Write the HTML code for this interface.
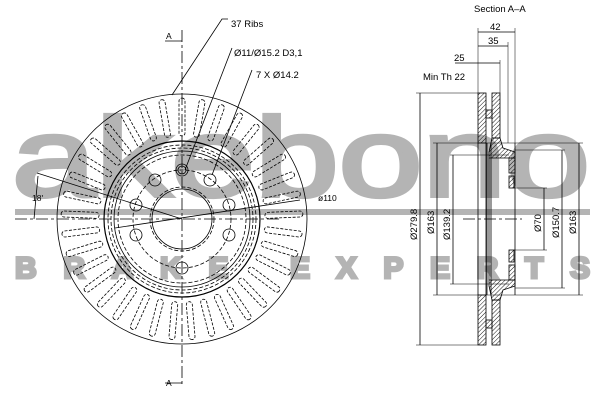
<!DOCTYPE html>
<html><head><meta charset="utf-8"><style>
html,body{margin:0;padding:0;background:#fff}
svg{display:block}
text{font-family:"Liberation Sans",sans-serif;fill:#000}
</style></head><body>
<svg id="s" width="600" height="400" viewBox="0 0 600 400" xmlns="http://www.w3.org/2000/svg">
<defs>
<pattern id="h" width="3" height="3" patternUnits="userSpaceOnUse" patternTransform="rotate(45)">
<line x1="0" y1="0" x2="0" y2="3" stroke="#000" stroke-width="0.9"/>
</pattern>
</defs>
<!-- watermark -->
<g>
<text x="12" y="196" font-size="112" textLength="578" lengthAdjust="spacingAndGlyphs" style="fill:#b4b4b4;stroke:#b4b4b4;stroke-width:4">akebono</text>
<rect x="15" y="209" width="575" height="6" fill="#b4b4b4"/>
<text x="15" y="278" font-size="30" font-weight="bold" textLength="575" lengthAdjust="spacing" style="fill:#b4b4b4;stroke:#b4b4b4;stroke-width:3">BRAKE EXPERTS</text>
</g>
<g id="disc" fill="none" stroke="#000" stroke-width="0.8"></g>
<g fill="none" stroke="#000" stroke-width="0.8">
<rect x="478" y="93" width="8" height="50" fill="url(#h)"/>
<rect x="478" y="295" width="8" height="50" fill="url(#h)"/>
<rect x="492" y="93" width="8" height="45" fill="url(#h)"/>
<rect x="492" y="300" width="8" height="45" fill="url(#h)"/>
<rect x="486" y="110" width="6" height="8" fill="url(#h)"/>
<rect x="486" y="320" width="6" height="8" fill="url(#h)"/>
<path d="M492 138 L500 138 L503 148 L515 152 L515 158 L489 158 L489 152 Z" fill="url(#h)"/>
<path d="M492 300 L500 300 L503 290 L515 286 L515 280 L489 280 L489 286 Z" fill="url(#h)"/>
<rect x="509" y="158" width="6" height="15" fill="url(#h)"/>
<rect x="509" y="265" width="6" height="15" fill="url(#h)"/>
<rect x="509" y="176" width="5" height="12" fill="url(#h)"/>
<rect x="509" y="250" width="5" height="12" fill="url(#h)"/>
<line x1="487" y1="143" x2="487" y2="295"/><line x1="491" y1="143" x2="491" y2="295"/>
<line x1="489" y1="158" x2="489" y2="280"/>
<line x1="478" y1="143" x2="478" y2="295"/>
<line x1="515" y1="143" x2="515" y2="295"/>
<line x1="486" y1="143" x2="486" y2="295"/>
<line x1="416" y1="93" x2="478" y2="93" stroke-width="0.5"/>
<line x1="416" y1="345" x2="478" y2="345" stroke-width="0.5"/>
<line x1="420" y1="93" x2="420" y2="345"/>
<line x1="433" y1="143" x2="515" y2="143" stroke-width="0.5"/>
<line x1="433" y1="295" x2="515" y2="295" stroke-width="0.5"/>
<line x1="437" y1="143" x2="437" y2="295"/>
<line x1="450" y1="155" x2="509" y2="155" stroke-width="0.5"/>
<line x1="450" y1="284" x2="509" y2="284" stroke-width="0.5"/>
<line x1="453" y1="155" x2="453" y2="284"/>
<line x1="514" y1="188" x2="547" y2="188" stroke-width="0.5"/>
<line x1="514" y1="250" x2="547" y2="250" stroke-width="0.5"/>
<line x1="544" y1="188" x2="544" y2="250"/>
<line x1="515" y1="150" x2="565" y2="150" stroke-width="0.5"/>
<line x1="515" y1="288" x2="565" y2="288" stroke-width="0.5"/>
<line x1="562" y1="150" x2="562" y2="288"/>
<line x1="515" y1="143" x2="583" y2="143" stroke-width="0.5"/>
<line x1="515" y1="295" x2="583" y2="295" stroke-width="0.5"/>
<line x1="579" y1="143" x2="579" y2="295"/>
<line x1="478" y1="28" x2="478" y2="93" stroke-width="0.5"/>
<line x1="515" y1="28" x2="515" y2="143" stroke-width="0.5"/>
<line x1="508" y1="42" x2="508" y2="143" stroke-width="0.5"/>
<line x1="500" y1="60" x2="500" y2="93" stroke-width="0.5"/>
<line x1="478" y1="32" x2="515" y2="32"/>
<line x1="478" y1="46" x2="508" y2="46"/>
<line x1="455" y1="63" x2="500" y2="63"/>
<line x1="463" y1="219" x2="522" y2="219" stroke-dasharray="12,3,3,3"/>
</g>
<g font-size="9.5">
<text x="474" y="12">Section A–A</text>
<text x="490" y="30">42</text>
<text x="488" y="44">35</text>
<text x="454" y="61">25</text>
<text x="423" y="80">Min Th 22</text>
<text transform="translate(417,240) rotate(-90)">Ø279.8</text>
<text transform="translate(434,234) rotate(-90)">Ø163</text>
<text transform="translate(450,240) rotate(-90)">Ø139.2</text>
<text transform="translate(541,232) rotate(-90)">Ø70</text>
<text transform="translate(559,238) rotate(-90)">Ø150.7</text>
<text transform="translate(576,234) rotate(-90)">Ø163</text>
<text x="231" y="27">37 Ribs</text>
<text x="234" y="56">Ø11/Ø15.2 D3,1</text>
<text x="256" y="78">7 X Ø14.2</text>
<text x="318" y="201" font-size="8.5">ø110</text>
<text x="32" y="201" font-size="8.5">18'</text>
<text x="166" y="39" font-size="8.5">A</text>
<text x="166" y="386" font-size="8.5">A</text>
</g>
</svg>
<script>
var g=document.getElementById('disc'),cx=182,cy=219,h='';
function C(r,d,w){h+='<circle cx="'+cx+'" cy="'+cy+'" r="'+r+'"'+(d?' stroke-dasharray="4,2"':'')+(w?' stroke-width="'+w+'"':'')+'/>';}
C(125);C(78,0,1.2);C(74,1);C(71,1);C(68);C(64,1);C(30);C(32,1);C(49,1);
for(var i=0;i<37;i++){var a=i*360/37;
h+='<rect x="-3" y="-121" width="6" height="38" rx="3" stroke-dasharray="3,1.5" transform="translate('+cx+','+cy+') rotate('+a+')"/>';}
var holes=[[182,170],[155,180],[210,180],[136,205],[229,205],[136,235],[229,235],[182,268]];
holes.forEach(function(p,k){h+='<circle cx="'+p[0]+'" cy="'+p[1]+'" r="6"/>';if(k==0)h+='<circle cx="182" cy="170" r="4"/>';});
h+='<line x1="182" y1="30" x2="182" y2="385" stroke-dasharray="12,3,3,3"/>';
h+='<line x1="15" y1="219" x2="282" y2="219" stroke-dasharray="12,3,3,3"/>';
h+='<line x1="165" y1="41" x2="182" y2="41"/><line x1="165" y1="383" x2="182" y2="383"/>';
h+='<path d="M182 219 L37 173"/><path d="M115 228 L300 200"/><path d="M34 219 L38 176"/>';
h+='<path d="M228 19 L222 19 L172 95"/><path d="M232 48 L185 170"/><path d="M252 70 L212 175"/>';
g.innerHTML=h;
</script>
</body></html>
